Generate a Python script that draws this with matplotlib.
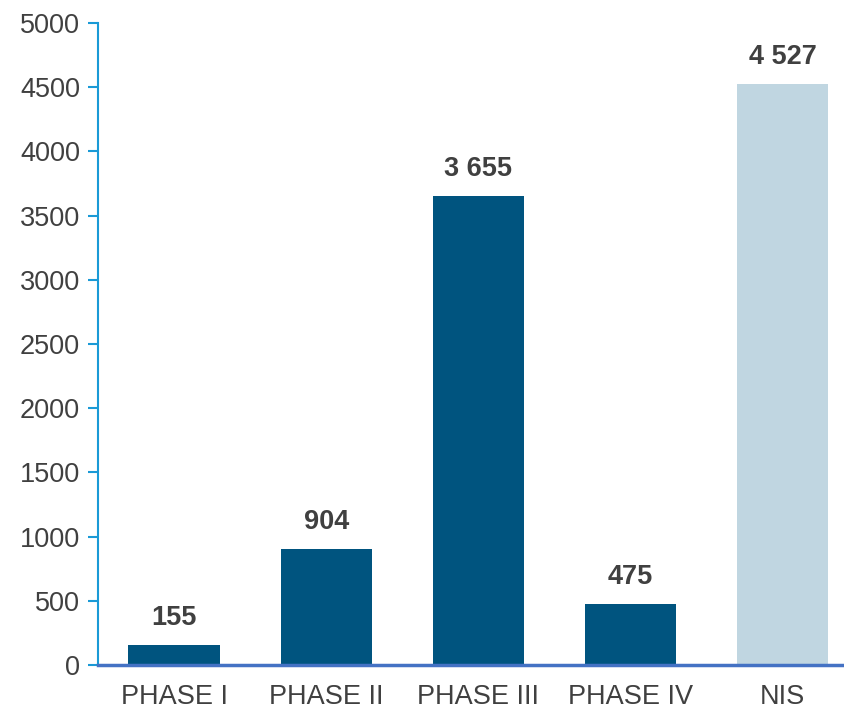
import matplotlib
matplotlib.use('Agg')
import matplotlib.pyplot as plt
import numpy as np

plt.rcParams['font.family'] = ['Liberation Sans', 'DejaVu Sans']

categories = ['PHASE I', 'PHASE II', 'PHASE III', 'PHASE IV', 'NIS']
values = [155, 904, 3655, 475, 4527]
value_labels = ['155', '904', '3 655', '475', '4 527']
colors = ['#00547f', '#00547f', '#00547f', '#00547f', '#c0d6e1']

text_color = '#404040'

fig = plt.figure(figsize=(8.45, 7.11), dpi=100)
ax = fig.add_axes([0.116, 0.0647, 0.884, 0.903])

x = np.arange(len(categories))
bars = ax.bar(x, values, width=0.6, color=colors, zorder=2)

for b, lab in zip(bars, value_labels):
    ax.annotate(lab, (b.get_x() + b.get_width() / 2, b.get_height()),
                xytext=(0, 10), textcoords='offset points',
                ha='center', va='bottom', fontsize=19.5, fontweight='bold',
                color=text_color)

ax.set_xlim(-0.5, 4.41)
ax.set_ylim(0, 5000)
ax.set_yticks(np.arange(0, 5001, 500))
ax.set_xticks(x)
ax.set_xticklabels(categories)

for s in ['top', 'right']:
    ax.spines[s].set_visible(False)
ax.spines['left'].set_color('#1a9ad6')
ax.spines['left'].set_linewidth(1.5)
ax.spines['bottom'].set_color('#4472c4')
ax.spines['bottom'].set_linewidth(2.5)
ax.spines['bottom'].set_zorder(3)

ax.tick_params(axis='y', colors='#1a9ad6', length=7, width=1.5,
               labelcolor=text_color, labelsize=19.5, pad=6)
ax.tick_params(axis='x', length=0, labelcolor=text_color, labelsize=19.5, pad=14)

fig.savefig('out.png', dpi=100)
